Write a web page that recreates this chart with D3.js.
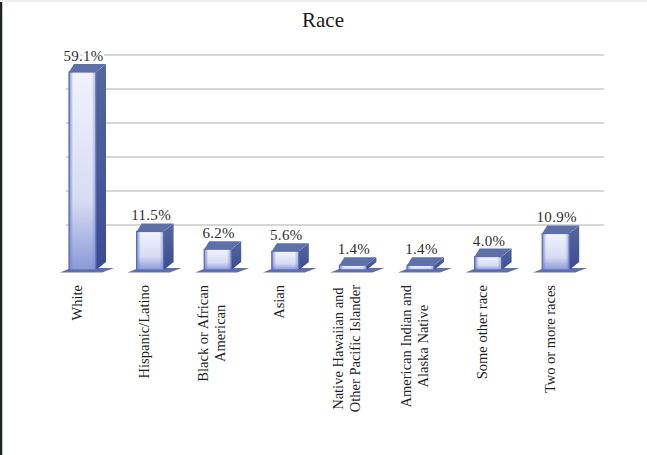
<!DOCTYPE html>
<html>
<head>
<meta charset="utf-8">
<script src="https://cdn.jsdelivr.net/npm/d3@7"></script>
<style>
  html, body { margin: 0; padding: 0; background: #fff; }
  svg { display: block; }
</style>
</head>
<body>
<svg id="chart" width="647" height="455"></svg>
<script>
// ---- data ----
const title = "Race";
const categories = ["White", "Hispanic/Latino", "Black or African American", "Asian",
  "Native Hawaiian and Other Pacific Islander", "American Indian and Alaska Native",
  "Some other race", "Two or more races"];
const categoryLines = [["White"], ["Hispanic/Latino"], ["Black or African", "American"], ["Asian"],
  ["Native Hawaiian and", "Other Pacific Islander"], ["American Indian and", "Alaska Native"],
  ["Some other race"], ["Two or more races"]];
const values = [59.1, 11.5, 6.2, 5.6, 1.4, 1.4, 4.0, 10.9];
const gridTicks = [10, 20, 30, 40, 50, 60];

// ---- layout ----
const svg = d3.select("#chart");
const W = 647, H = 455;
const dx = 10, dy = 8;          // 3D depth offsets
const base = 270;

const x = d3.scaleBand().domain(categories).range([48.7, 589.5]).paddingInner(0).paddingOuter(0);
const y = d3.scaleLinear().domain([0, 60]).range([base, 69]);
const yBack = d3.scaleLinear().domain([0, 60]).range([259, 55]);
const barW = 27;

const defs = svg.append("defs");
const gFront = defs.append("linearGradient").attr("id", "gFront")
  .attr("x1", 0).attr("y1", 0).attr("x2", 0).attr("y2", 1);
gFront.append("stop").attr("offset", "0%").attr("stop-color", "#f0f2fc");
gFront.append("stop").attr("offset", "65%").attr("stop-color", "#d6dcf3");
gFront.append("stop").attr("offset", "100%").attr("stop-color", "#8a99d8");
const gFrontH = defs.append("linearGradient").attr("id", "gFrontH")
  .attr("x1", 0).attr("y1", 0).attr("x2", 1).attr("y2", 0);
gFrontH.append("stop").attr("offset", "0%").attr("stop-color", "#6f80c8").attr("stop-opacity", 0.9);
gFrontH.append("stop").attr("offset", "15%").attr("stop-color", "#6f80c8").attr("stop-opacity", 0);
gFrontH.append("stop").attr("offset", "85%").attr("stop-color", "#6f80c8").attr("stop-opacity", 0);
gFrontH.append("stop").attr("offset", "100%").attr("stop-color", "#6f80c8").attr("stop-opacity", 0.6);
const gSide = defs.append("linearGradient").attr("id", "gSide")
  .attr("x1", 0).attr("y1", 0).attr("x2", 0).attr("y2", 1);
gSide.append("stop").attr("offset", "0%").attr("stop-color", "#56689e");
gSide.append("stop").attr("offset", "100%").attr("stop-color", "#3a4c92");

// frame
svg.append("rect").attr("x", 0).attr("y", 0).attr("width", W).attr("height", H).attr("fill", "#fff");
svg.append("line").attr("x1", 1).attr("x2", 1).attr("y1", 0).attr("y2", H)
  .attr("stroke", "#1e2420").attr("stroke-width", 2.5);
svg.append("line").attr("x1", 0).attr("x2", W).attr("y1", 1).attr("y2", 1)
  .attr("stroke", "#eeeeee").attr("stroke-width", 2);

// title
svg.append("text").attr("x", 323).attr("y", 27).attr("text-anchor", "middle")
  .attr("font-family", "Liberation Serif, Times New Roman, serif").attr("font-size", 21)
  .attr("fill", "#1a1a1a").text(title);

// gridlines (back wall)
svg.append("g").selectAll("line").data(gridTicks).join("line")
  .attr("x1", 66).attr("x2", 604)
  .attr("y1", d => yBack(d)).attr("y2", d => yBack(d))
  .attr("stroke", "#d6d6d6").attr("stroke-width", 2);

// bars
const bars = svg.append("g").selectAll("g").data(categories).join("g");
bars.each(function(c, i) {
  const g = d3.select(this);
  const cx = x(c) + x.bandwidth() / 2;
  const x0 = cx - barW / 2, x1 = cx + barW / 2;
  const top = y(values[i]);
  // floor shadow
  g.append("polygon")
    .attr("points", [[x0 - 9, base + 2.5], [x1 + 6, base + 2.5], [x1 + dx + 8, base - 2], [x0 + 2, base - 2]].map(p => p.join(",")).join(" "))
    .attr("fill", "#44559f").attr("opacity", 0.85);
  // side face
  g.append("polygon")
    .attr("points", [[x1, top], [x1 + dx, top - dy], [x1 + dx, base - dy], [x1, base]].map(p => p.join(",")).join(" "))
    .attr("fill", "url(#gSide)");
  // top face
  g.append("polygon")
    .attr("points", [[x0, top], [x0 + dx * 0.5, top - dy], [x1 + dx, top - dy], [x1, top]].map(p => p.join(",")).join(" "))
    .attr("fill", "#5f70a6");
  // front face
  g.append("rect").attr("x", x0).attr("y", top).attr("width", barW).attr("height", base - top)
    .attr("fill", "url(#gFront)");
  g.append("rect").attr("x", x0).attr("y", top).attr("width", barW).attr("height", base - top)
    .attr("fill", "url(#gFrontH)").attr("stroke", "#5a6cb4").attr("stroke-width", 1.2);
  // value label
  g.append("text").attr("x", cx + 1).attr("y", top - dy - 3).attr("text-anchor", "middle")
    .attr("font-family", "Liberation Serif, Times New Roman, serif").attr("font-size", 15)
    .attr("fill", "#2e2e2e").attr("letter-spacing", 0.3)
    .attr("stroke", "#fff").attr("stroke-width", 4).attr("paint-order", "stroke")
    .text(d3.format(".1f")(values[i]) + "%");
  // category label
  const lines = categoryLines[i];
  const n = lines.length;
  const lg = g.append("g").attr("transform", `translate(${cx - 1},285) rotate(-90)`);
  const texts = lg.selectAll("text").data(lines).join("text")
    .attr("y", (d, k) => (k - (n - 1) / 2) * 17)
    .attr("text-anchor", "middle")
    .attr("font-family", "Liberation Serif, Times New Roman, serif").attr("font-size", 14.5)
    .attr("fill", "#1e1e1e").text(d => d);
  let maxLen = 0;
  texts.each(function() { maxLen = Math.max(maxLen, this.getComputedTextLength()); });
  texts.attr("x", -maxLen / 2);
});
</script>
</body>
</html>
